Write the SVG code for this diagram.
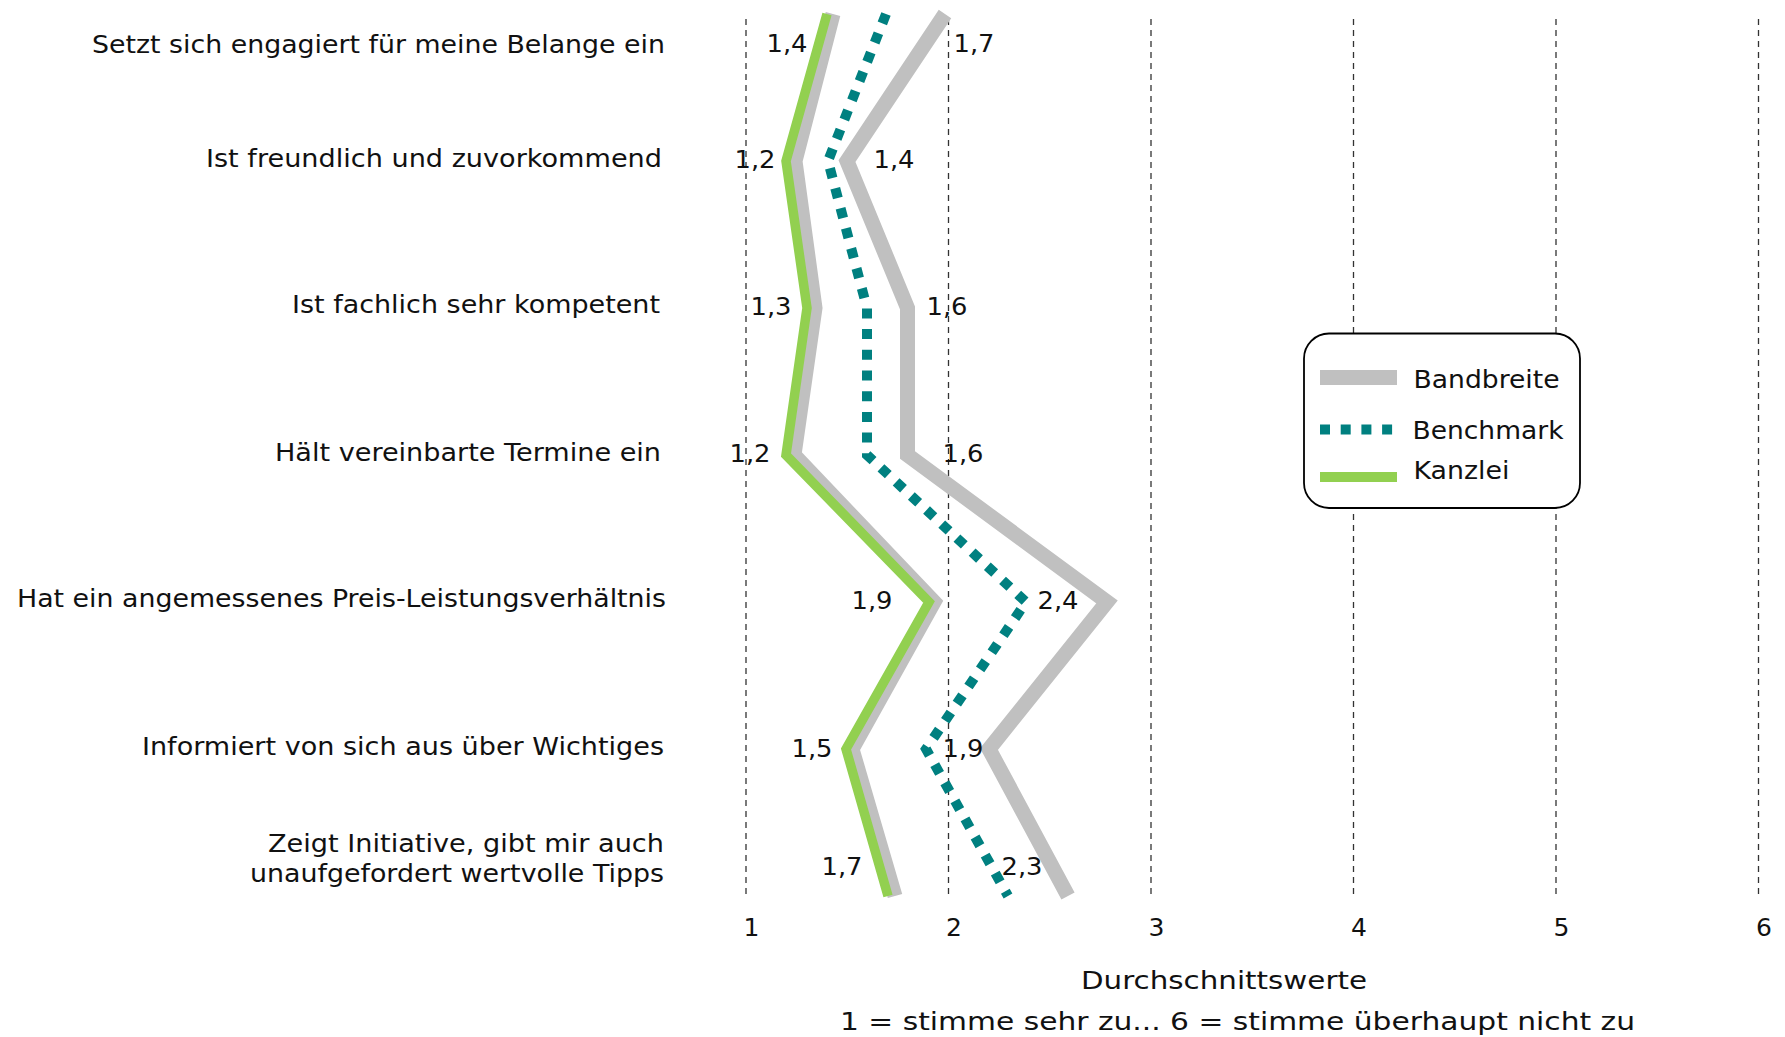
<svg xmlns="http://www.w3.org/2000/svg" width="1785" height="1037" viewBox="0 0 1785 1037">
<style>
text{font-family:"DejaVu Sans","Liberation Sans",sans-serif;font-size:25px;fill:#111}
.grid{stroke:#333;stroke-width:1.3;stroke-dasharray:6 5}
.band{fill:none;stroke:#C0C0C0;stroke-width:15;stroke-linejoin:miter}
.bench{fill:none;stroke:#008080;stroke-width:10;stroke-dasharray:10 10.7}
.kanz{fill:none;stroke:#92D050;stroke-width:9.5}
.lab{text-anchor:end}
.val{text-anchor:middle}
.tick{text-anchor:middle}
</style>
<rect width="1785" height="1037" fill="#fff"/>
<g id="gridlines">
<line class="grid" x1="746" y1="19" x2="746" y2="897"/>
<line class="grid" x1="948.5" y1="19" x2="948.5" y2="897"/>
<line class="grid" x1="1151" y1="19" x2="1151" y2="897"/>
<line class="grid" x1="1353.5" y1="19" x2="1353.5" y2="897"/>
<line class="grid" x1="1556" y1="19" x2="1556" y2="897"/>
<line class="grid" x1="1758.5" y1="19" x2="1758.5" y2="897"/>
</g>
<g id="series">
<polyline id="bandbreite-min" class="band" points="833,14 795,161 815,308 794,455 934,602 852,749 895,896"/>
<polyline id="bandbreite-max" class="band" points="945,14 847,161 907.5,308 907.5,455 1107,602 989,749 1068,896"/>
<polyline id="benchmark" class="bench" points="886,14 828,161 867,308 867,455 1026,602 926,749 1008,896"/>
<polyline id="kanzlei" class="kanz" points="827,14 786,161 807,308 786,455 929,602 846,749 888,896"/>
</g>
<g id="row-labels">
<text class="lab" x="665" y="53" textLength="573" lengthAdjust="spacingAndGlyphs">Setzt sich engagiert für meine Belange ein</text>
<text class="lab" x="662" y="167" textLength="456" lengthAdjust="spacingAndGlyphs">Ist freundlich und zuvorkommend</text>
<text class="lab" x="660" y="313" textLength="368" lengthAdjust="spacingAndGlyphs">Ist fachlich sehr kompetent</text>
<text class="lab" x="661" y="461" textLength="386" lengthAdjust="spacingAndGlyphs">Hält vereinbarte Termine ein</text>
<text class="lab" x="666" y="607" textLength="649" lengthAdjust="spacingAndGlyphs">Hat ein angemessenes Preis-Leistungsverhältnis</text>
<text class="lab" x="664" y="755" textLength="522" lengthAdjust="spacingAndGlyphs">Informiert von sich aus über Wichtiges</text>
<text class="lab" x="664" y="852" textLength="396" lengthAdjust="spacingAndGlyphs">Zeigt Initiative, gibt mir auch</text>
<text class="lab" x="664" y="882" textLength="414" lengthAdjust="spacingAndGlyphs">unaufgefordert wertvolle Tipps</text>
</g>
<g id="value-labels">
<text class="val" x="787" y="52" textLength="41" lengthAdjust="spacingAndGlyphs">1,4</text>
<text class="val" x="974" y="52" textLength="41" lengthAdjust="spacingAndGlyphs">1,7</text>
<text class="val" x="755" y="168" textLength="41" lengthAdjust="spacingAndGlyphs">1,2</text>
<text class="val" x="894" y="168" textLength="41" lengthAdjust="spacingAndGlyphs">1,4</text>
<text class="val" x="771" y="315" textLength="41" lengthAdjust="spacingAndGlyphs">1,3</text>
<text class="val" x="947" y="315" textLength="41" lengthAdjust="spacingAndGlyphs">1,6</text>
<text class="val" x="750" y="462" textLength="41" lengthAdjust="spacingAndGlyphs">1,2</text>
<text class="val" x="963" y="462" textLength="41" lengthAdjust="spacingAndGlyphs">1,6</text>
<text class="val" x="872" y="609" textLength="41" lengthAdjust="spacingAndGlyphs">1,9</text>
<text class="val" x="1058" y="609" textLength="41" lengthAdjust="spacingAndGlyphs">2,4</text>
<text class="val" x="812" y="757" textLength="41" lengthAdjust="spacingAndGlyphs">1,5</text>
<text class="val" x="963" y="757" textLength="41" lengthAdjust="spacingAndGlyphs">1,9</text>
<text class="val" x="842" y="875" textLength="41" lengthAdjust="spacingAndGlyphs">1,7</text>
<text class="val" x="1022" y="875" textLength="41" lengthAdjust="spacingAndGlyphs">2,3</text>
</g>
<g id="axis">
<text class="tick" x="751.5" y="936">1</text>
<text class="tick" x="954" y="936">2</text>
<text class="tick" x="1156.5" y="936">3</text>
<text class="tick" x="1359" y="936">4</text>
<text class="tick" x="1561.5" y="936">5</text>
<text class="tick" x="1764" y="936">6</text>
<text x="1081" y="989" textLength="286" lengthAdjust="spacingAndGlyphs">Durchschnittswerte</text>
<text x="840" y="1030" textLength="795" lengthAdjust="spacingAndGlyphs">1 = stimme sehr zu... 6 = stimme überhaupt nicht zu</text>
</g>
<g id="legend">
<rect x="1304" y="333.5" width="276" height="174.5" rx="25" ry="25" fill="#fff" stroke="#000" stroke-width="1.8"/>
<line x1="1320" y1="377.5" x2="1397" y2="377.5" stroke="#C0C0C0" stroke-width="15"/>
<line x1="1320" y1="429.5" x2="1393" y2="429.5" class="bench"/>
<line x1="1320" y1="477" x2="1397" y2="477" stroke="#92D050" stroke-width="10"/>
<text x="1413.5" y="388" textLength="146" lengthAdjust="spacingAndGlyphs">Bandbreite</text>
<text x="1412.5" y="439" textLength="151" lengthAdjust="spacingAndGlyphs">Benchmark</text>
<text x="1413.5" y="479" textLength="96" lengthAdjust="spacingAndGlyphs">Kanzlei</text>
</g>
</svg>
